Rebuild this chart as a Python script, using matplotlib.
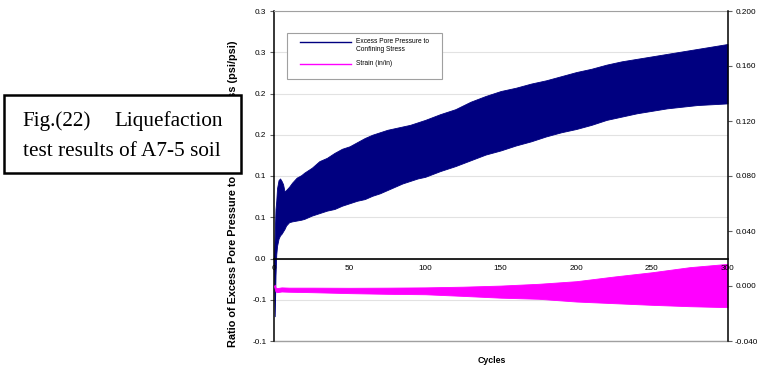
import matplotlib
matplotlib.use("Agg")
import matplotlib.pyplot as plt
from matplotlib.patches import Rectangle
from matplotlib.lines import Line2D

plt.rcParams["font.family"] = ["Liberation Sans", "DejaVu Sans"]

# excess pore pressure ratio: peak / trough envelope read per cycle position
pore_cycles = [0, 0.5, 1, 1.5, 2, 3, 4, 5, 6, 7, 8, 10, 12, 15, 18, 20, 25, 30, 35,
               40, 45, 50, 55, 60, 65, 70, 75, 80, 85, 90, 95, 100, 110, 120, 130,
               140, 150, 160, 170, 180, 190, 200, 210, 220, 230, 240, 250, 260, 270,
               280, 290, 300]
pore_peak = [0.0, 0.03, 0.06, 0.07, 0.085, 0.095, 0.097, 0.094, 0.09, 0.081, 0.083,
             0.087, 0.092, 0.098, 0.101, 0.104, 0.110, 0.118, 0.122, 0.128, 0.133,
             0.136, 0.141, 0.146, 0.150, 0.153, 0.156, 0.158, 0.160, 0.162, 0.165,
             0.168, 0.175, 0.181, 0.190, 0.197, 0.203, 0.207, 0.212, 0.216, 0.221,
             0.226, 0.230, 0.235, 0.239, 0.242, 0.245, 0.248, 0.251, 0.254, 0.257,
             0.260]
pore_trough = [0.0, -0.07, -0.02, 0.005, 0.015, 0.024, 0.028, 0.030, 0.033, 0.036,
               0.040, 0.044, 0.045, 0.046, 0.047, 0.048, 0.052, 0.055, 0.058, 0.060,
               0.064, 0.067, 0.070, 0.072, 0.076, 0.079, 0.083, 0.087, 0.091, 0.094,
               0.097, 0.099, 0.106, 0.112, 0.119, 0.126, 0.131, 0.137, 0.142, 0.148,
               0.153, 0.157, 0.162, 0.168, 0.172, 0.176, 0.179, 0.182, 0.184, 0.186,
               0.187, 0.188]

# strain (in/in): peak / trough envelope
strain_cycles = [0, 0.5, 1, 2, 5, 10, 25, 50, 75, 100, 125, 150, 175, 200, 225, 250,
                 275, 300]
strain_peak = [0.0, 0.001, -0.001, -0.0015, -0.001, -0.0012, -0.0012, -0.0013,
               -0.0012, -0.001, -0.0005, 0.0003, 0.0016, 0.0035, 0.0069, 0.010,
               0.0137, 0.0161]
strain_trough = [0.0, -0.002, -0.004, -0.0045, -0.004, -0.0042, -0.0045, -0.0052,
                 -0.0057, -0.006, -0.0072, -0.0085, -0.0093, -0.0113, -0.0125,
                 -0.0137, -0.0147, -0.0154]

x_ticks = [0, 50, 100, 150, 200, 250, 300]
x_tick_labels = ["0", "50", "100", "150", "200", "250", "300"]
left_ticks = [-0.1, -0.05, 0.0, 0.05, 0.1, 0.15, 0.2, 0.25, 0.3]
left_tick_labels = ["-0.1", "-0.1", "0.0", "0.1", "0.1", "0.2", "0.2", "0.3", "0.3"]
right_ticks = [-0.04, 0.0, 0.04, 0.08, 0.12, 0.16, 0.2]
right_tick_labels = ["-0.040", "0.000", "0.040", "0.080", "0.120", "0.160", "0.200"]

NAVY = "#000080"
MAGENTA = "#ff00ff"

W, H = 759, 367
fig = plt.figure(figsize=(W / 100, H / 100), dpi=100)


def fx(px):
    return px / W


def fy(py):
    return 1 - py / H


ax = fig.add_axes([fx(274), fy(341), fx(727.5) - fx(274), fy(11) - fy(341)])
ax2 = ax.twinx()

ax.fill_between(pore_cycles, pore_trough, pore_peak, color=NAVY, lw=0.6)
ax2.fill_between(strain_cycles, strain_trough, strain_peak, color=MAGENTA, lw=0.6)

ax.set_xlim(0, 300)
ax.set_ylim(-0.1, 0.3)
ax2.set_ylim(-0.04, 0.2)

ax.set_yticks(left_ticks)
ax.set_yticklabels(left_tick_labels)
ax2.set_yticks(right_ticks)
ax2.set_yticklabels(right_tick_labels)

ax.grid(axis="y", color="#e2e2e2", lw=0.8)
ax.set_axisbelow(True)
ax.axhline(-0.1, color="#a0a0a0", lw=1, clip_on=False)

ax.spines["bottom"].set_visible(False)
ax.spines["top"].set_color("#a0a0a0")
ax.spines["right"].set_visible(False)
ax.spines["left"].set_linewidth(1.1)
ax.tick_params(axis="x", bottom=False, labelbottom=False)

# category axis crosses the left axis at 0 -> drawn on the upper (strain) axes
x0_frac = (0 - ax.get_ylim()[0]) / (ax.get_ylim()[1] - ax.get_ylim()[0])
ax2.xaxis.set_visible(True)
ax2.set_xticks(x_ticks)
ax2.set_xticklabels(x_tick_labels)
ax2.spines["bottom"].set_position(("axes", x0_frac))
ax2.spines["bottom"].set_linewidth(1.2)
ax2.spines["left"].set_visible(False)
ax2.spines["top"].set_visible(False)
ax2.spines["right"].set_linewidth(1.1)
ax2.tick_params(axis="x", length=0, pad=4.5, labelsize=5.9)

ax.tick_params(axis="y", length=3, width=0.8, color="#606060", pad=2.5, labelsize=5.9)
ax2.tick_params(axis="y", length=3, width=0.8, color="#606060", pad=2.5, labelsize=5.9)

ax.set_ylabel("Ratio of Excess Pore Pressure to Confining Stress (psi/psi)",
              fontsize=7.8, fontweight="bold")
ax.yaxis.set_label_coords(-0.079, 0.447)
ax.set_xlabel("Cycles", fontsize=6.3, fontweight="bold")
ax.xaxis.set_label_coords((492 - 274) / 453.5, -0.045)

# legend box
fig.add_artist(Rectangle((fx(287.3), fy(79.3)), fx(441.7) - fx(287.3), fy(33.3) - fy(79.3),
                         transform=fig.transFigure, facecolor="white",
                         edgecolor="#a0a0a0", lw=0.8, zorder=5))
fig.add_artist(Line2D([fx(300), fx(351)], [fy(41.7), fy(41.7)], color=NAVY, lw=1,
                      transform=fig.transFigure, zorder=6))
fig.add_artist(Line2D([fx(300), fx(351)], [fy(63.5), fy(63.5)], color=MAGENTA, lw=1,
                      transform=fig.transFigure, zorder=6))
fig.text(fx(356), fy(41.7), "Excess Pore Pressure to", fontsize=4.8, va="center", zorder=6)
fig.text(fx(356), fy(49.3), "Confining Stress", fontsize=4.8, va="center", zorder=6)
fig.text(fx(356), fy(63.5), "Strain (in/in)", fontsize=4.8, va="center", zorder=6)

# caption box
fig.add_artist(Rectangle((fx(3.5), fy(173)), fx(241) - fx(3.5), fy(95) - fy(173),
                         transform=fig.transFigure, facecolor="white",
                         edgecolor="black", lw=1.8, zorder=5))
serif = ["Liberation Serif", "DejaVu Serif"]
fig.text(fx(22.5), fy(126), "Fig.(22)", family=serif, fontsize=15.3, va="baseline", zorder=6)
fig.text(fx(222.5), fy(126), "Liquefaction", family=serif, fontsize=15.3, va="baseline",
         ha="right", zorder=6)
fig.text(fx(23), fy(155.5), "test results of A7-5 soil", family=serif, fontsize=15.3,
         va="baseline", zorder=6)

fig.savefig("out.png", dpi=100)
